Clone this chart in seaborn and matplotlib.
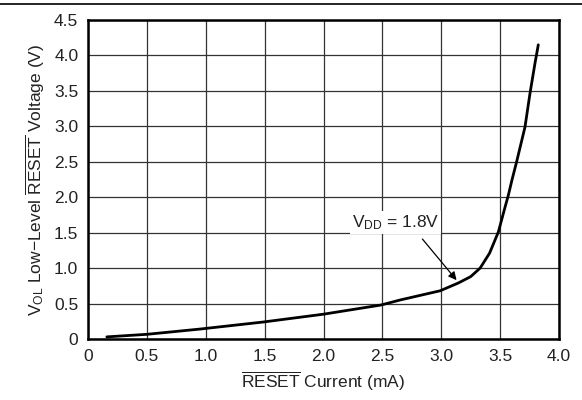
import numpy as np
import pandas as pd
import matplotlib
matplotlib.use("Agg")
import matplotlib.pyplot as plt
import seaborn as sns

# values
reset_current = [0.16, 0.5, 0.95, 1.49, 2.0, 2.49, 2.65, 2.99, 3.145, 3.25, 3.33,
                 3.41, 3.485, 3.54, 3.57, 3.60, 3.64, 3.711, 3.754, 3.796, 3.824]
vol = [0.03, 0.066, 0.14, 0.24, 0.35, 0.48, 0.55, 0.68, 0.79, 0.88, 1.0,
       1.21, 1.51, 1.85, 2.03, 2.24, 2.50, 2.99, 3.47, 3.89, 4.15]
x_ticks = [0, 0.5, 1.0, 1.5, 2.0, 2.5, 3.0, 3.5, 4.0]
x_tick_labels = ["0", "0.5", "1.0", "1.5", "2.0", "2.5", "3.0", "3.5", "4.0"]
y_ticks = [0, 0.5, 1.0, 1.5, 2.0, 2.5, 3.0, 3.5, 4.0, 4.5]
y_tick_labels = ["0", "0.5", "1.0", "1.5", "2.0", "2.5", "3.0", "3.5", "4.0", "4.5"]

df = pd.DataFrame({"current": reset_current, "vol": vol})

sns.set_theme(style="white")
plt.rcParams["font.family"] = ["Liberation Sans", "DejaVu Sans"]
plt.rcParams["mathtext.fontset"] = "custom"
plt.rcParams["mathtext.rm"] = "Liberation Sans"
plt.rcParams["mathtext.it"] = "Liberation Sans"

fs = 12.5
fig = plt.figure(figsize=(5.82, 4.0), dpi=100)
ax = fig.add_axes([0.1512, 0.1525, 0.8093, 0.7975])

sns.lineplot(data=df, x="current", y="vol", ax=ax, color="black", linewidth=2.0)

ax.set_xlim(0, 4.0)
ax.set_ylim(0, 4.5)
ax.set_xticks(x_ticks)
ax.set_xticklabels(x_tick_labels)
ax.set_yticks(y_ticks)
ax.set_yticklabels(y_tick_labels)
ax.tick_params(length=0, labelsize=fs, colors="#222222", pad=7)
ax.grid(True, color="#333333", linewidth=0.9)
for s in ax.spines.values():
    s.set_color("black")
    s.set_linewidth(1.8)

ax.set_xlabel(r"$\overline{\mathrm{RESET}}$ Current (mA)", fontsize=fs, color="#222222", labelpad=4)
ax.set_ylabel(r"V$_{\mathrm{OL}}$ Low$-$Level $\overline{\mathrm{RESET}}$ Voltage (V)",
              fontsize=fs, color="#222222", labelpad=5)

ax.annotate("", xy=(3.13, 0.83), xytext=(2.84, 1.41),
            arrowprops=dict(arrowstyle="-|>", color="black", lw=0.9,
                            mutation_scale=12, shrinkA=0, shrinkB=0))
ax.text(2.61, 1.64, r"V$_{\mathrm{DD}}$ = 1.8V", ha="center", va="center",
        fontsize=fs, color="#222222",
        bbox=dict(facecolor="white", edgecolor="none", pad=1.5))

fig.add_artist(plt.Line2D([0, 1], [0.99, 0.99], color="black", linewidth=1.2,
                          transform=fig.transFigure))

fig.savefig("out.png", dpi=100)
